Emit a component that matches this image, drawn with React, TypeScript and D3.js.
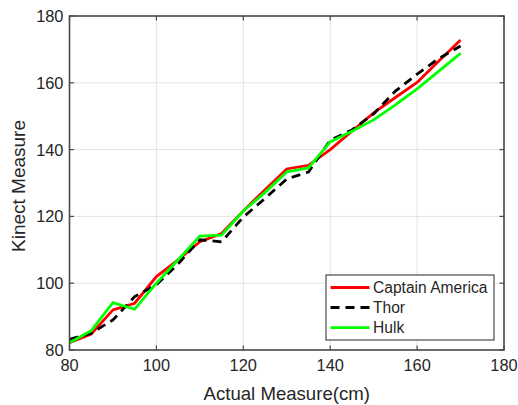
import React from "react";
import * as d3 from "d3";

const actual = [80, 85, 90, 95, 100, 105, 110, 115, 120, 125, 130, 135, 140, 145, 150, 155, 160, 165, 170];
const captainAmerica = [82.2, 84.8, 92, 94, 102, 107, 112.4, 114.9, 121.6, 128, 134.2, 135.3, 140, 145.5, 151, 155.6, 160.1, 166.5, 172.8];
const thor = [83.2, 85, 89, 96, 99.5, 105.8, 113, 112.4, 119.8, 125.4, 131.2, 133.3, 142.8, 145.9, 150.7, 157.5, 162.6, 167.3, 171];
const hulk = [82.2, 85.8, 94.2, 92.2, 100, 107, 114.1, 114.4, 121.6, 127.2, 133.3, 134.5, 142.3, 145.5, 148.9, 153.4, 158.2, 163.5, 168.8];
const xTicks = [80, 100, 120, 140, 160, 180];
const yTicks = [80, 100, 120, 140, 160, 180];
const seriesNames = ["Captain America", "Thor", "Hulk"];
const seriesColors = ["#ff0000", "#000000", "#00ff00"];

const W = 518;
const H = 405;
const L = 69.5, R = 504, T = 16, B = 350;
const FONT = "'Liberation Sans', Arial, Helvetica, sans-serif";
const TXT = "#262626";

export default function App() {
  const x = d3.scaleLinear().domain([80, 180]).range([L, R]);
  const y = d3.scaleLinear().domain([80, 180]).range([B, T]);
  const series = [captainAmerica, thor, hulk];
  const line = d3
    .line<number>()
    .x((_, i) => x(actual[i]))
    .y((d) => y(d));
  const tickLen = 4.5;

  const legX = 326, legY = 275, legW = 168, legH = 65;
  const rowY = [287.5, 307.5, 327.7];

  return (
    <div style={{ position: "absolute", left: 0, top: 0 }}>
      <svg width={W} height={H} viewBox={`0 0 ${W} ${H}`} style={{ display: "block", background: "#fff" }}>
        <rect x={0} y={0} width={W} height={H} fill="#fff" />
        {/* grid */}
        {xTicks.map((t) => (
          <line key={"gx" + t} x1={x(t)} x2={x(t)} y1={T} y2={B} stroke="#e3e3e3" strokeWidth={1} />
        ))}
        {yTicks.map((t) => (
          <line key={"gy" + t} x1={L} x2={R} y1={y(t)} y2={y(t)} stroke="#e3e3e3" strokeWidth={1} />
        ))}
        {/* data */}
        {series.map((s, i) => (
          <path
            key={"s" + i}
            d={line(s) || ""}
            fill="none"
            stroke={seriesColors[i]}
            strokeWidth={2.8}
            strokeDasharray={i === 1 ? "9,6" : undefined}
            strokeLinejoin="miter"
          />
        ))}
        {/* box */}
        <rect x={L} y={T} width={R - L} height={B - T} fill="none" stroke="#4a4a4a" strokeWidth={1.6} />
        {/* ticks */}
        {xTicks.map((t) => (
          <g key={"tx" + t}>
            <line x1={x(t)} x2={x(t)} y1={B} y2={B - tickLen} stroke="#4a4a4a" strokeWidth={1.2} />
            <line x1={x(t)} x2={x(t)} y1={T} y2={T + tickLen} stroke="#4a4a4a" strokeWidth={1.2} />
            <text x={x(t)} y={371} textAnchor="middle" fontFamily={FONT} fontSize={16.4} fill={TXT}>
              {t}
            </text>
          </g>
        ))}
        {yTicks.map((t) => (
          <g key={"ty" + t}>
            <line x1={L} x2={L + tickLen} y1={y(t)} y2={y(t)} stroke="#4a4a4a" strokeWidth={1.2} />
            <line x1={R} x2={R - tickLen} y1={y(t)} y2={y(t)} stroke="#4a4a4a" strokeWidth={1.2} />
            <text x={63.5} y={y(t) + 5.9} textAnchor="end" fontFamily={FONT} fontSize={16.4} fill={TXT}>
              {t}
            </text>
          </g>
        ))}
        {/* axis labels */}
        <text x={(L + R) / 2} y={400} textAnchor="middle" fontFamily={FONT} fontSize={18.6} fill={TXT}>
          Actual Measure(cm)
        </text>
        <text
          transform={`translate(25,${(T + B) / 2 + 3}) rotate(-90)`}
          textAnchor="middle"
          fontFamily={FONT}
          fontSize={19}
          fill={TXT}
        >
          Kinect Measure
        </text>
        {/* legend */}
        <rect x={legX} y={legY} width={legW} height={legH} fill="#fff" stroke="#4a4a4a" strokeWidth={1.2} />
        {seriesNames.map((n, i) => (
          <g key={"l" + i}>
            <line
              x1={330.5}
              x2={369.5}
              y1={rowY[i]}
              y2={rowY[i]}
              stroke={seriesColors[i]}
              strokeWidth={2.8}
              strokeDasharray={i === 1 ? "9,6" : undefined}
            />
            <text x={373} y={rowY[i] + 5.7} fontFamily={FONT} fontSize={15.6} fill={TXT}>
              {n}
            </text>
          </g>
        ))}
      </svg>
    </div>
  );
}
